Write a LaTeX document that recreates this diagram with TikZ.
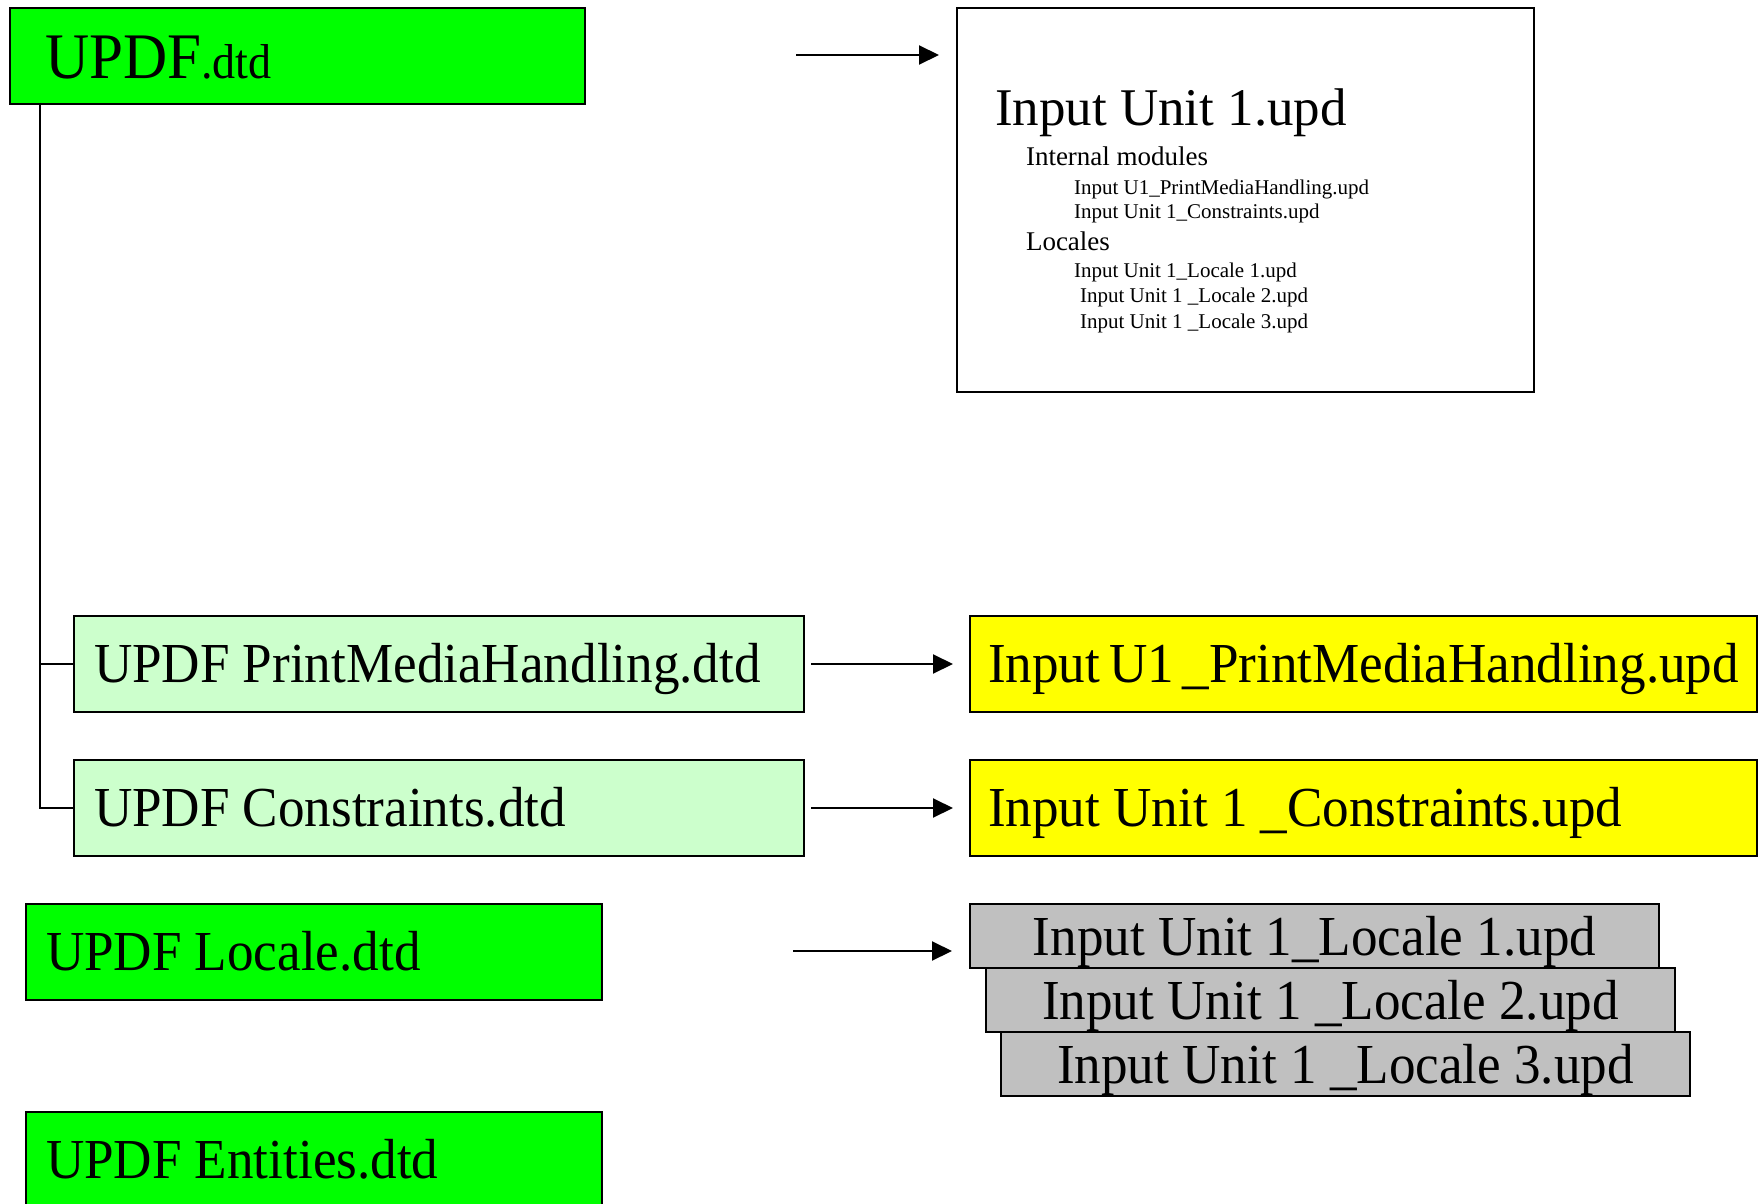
\documentclass[tikz,border=0pt]{standalone}
\usepackage{fontspec}
\setmainfont{Liberation Serif}
\newfontfamily\boxface{Liberation Serif}[FakeStretch=0.94]
\usetikzlibrary{arrows.meta}
\definecolor{dtdlight}{RGB}{204,255,204}
\definecolor{locgrey}{RGB}{192,192,192}
\definecolor{updyellow}{RGB}{255,255,0}

\begin{document}
\begin{tikzpicture}[x=1pt, y=-1pt, line width=2pt,
    filebox/.style={draw, rectangle, anchor=north west, minimum height=96pt,
      inner ysep=0pt, inner xsep=22pt, font=\boxface\fontsize{56.5}{60}\selectfont,
      text height=39pt, text depth=2pt,
      execute at begin node={\hbox to #1\bgroup},
      execute at end node={\hfil\egroup}},
    dtdbox/.style={filebox=#1, fill=green, text depth=3pt},
    subbox/.style={filebox=#1, fill=dtdlight, inner xsep=20pt},
    updbox/.style={filebox=#1, fill=updyellow, inner xsep=18pt},
    localebox/.style={draw, rectangle, anchor=north west, fill=locgrey,
      minimum width=689pt, minimum height=64pt, inner sep=0pt,
      font=\boxface\fontsize{56.5}{60}\selectfont, text height=39pt, text depth=0pt},
    listline/.style={anchor=base west, inner sep=0pt},
    arr/.style={-{Triangle[length=20pt, width=19pt]}}]
        \useasboundingbox (0,0) rectangle (1762,1204);
        \clip (0,0) rectangle (1762,1204);
        \fill[white] (0,0) rectangle (1762,1204);

        % Main DTD
        \node[dtdbox=505pt, inner xsep=35pt, text height=45pt, text depth=0pt] (updf) at (9,7)
            {\fontsize{65}{70}\selectfont UPDF\fontsize{49}{52}\selectfont .dtd};

        % Contents of the input unit
        \node[draw, fill=white, anchor=north west, minimum width=577pt,
            minimum height=384pt, inner sep=0pt] (unit) at (956,7) {};
        \node[listline, font=\fontsize{53}{56}\selectfont] (unit-title) at (994,126) {Input Unit 1.upd};
        \node[listline, font=\fontsize{27}{30}\selectfont] (unit-mods) at (1025,166) {Internal modules};
        \node[listline, font=\fontsize{21}{24}\selectfont] (unit-pmh) at (1073,194) {Input U1\_PrintMediaHandling.upd};
        \node[listline, font=\fontsize{21}{24}\selectfont] (unit-cons) at (1073,218) {Input Unit 1\_Constraints.upd};
        \node[listline, font=\fontsize{27}{30}\selectfont] (unit-locs) at (1025,250) {Locales};
        \node[listline, font=\fontsize{21}{24}\selectfont] (unit-loc1) at (1073,277) {Input Unit 1\_Locale 1.upd};
        \node[listline, font=\fontsize{21}{24}\selectfont] (unit-loc2) at (1079,302) {Input Unit 1 \_Locale 2.upd};
        \node[listline, font=\fontsize{21}{24}\selectfont] (unit-loc3) at (1079,328) {Input Unit 1 \_Locale 3.upd};

        % Internal module DTDs
        \node[subbox=690pt] (pmh) at (73,615) {UPDF PrintMediaHandling.dtd};
        \node[subbox=690pt] (cons) at (73,759) {UPDF Constraints.dtd};
        \coordinate (trunk) at (40,103);
        \draw (trunk) |- (pmh.west);
        \draw (trunk) |- (cons.west);

        % Internal module files
        \node[updbox=751pt] (pmhupd) at (969,615) {Input U1 \_PrintMediaHandling.upd};
        \node[updbox=751pt] (consupd) at (969,759) {Input Unit 1 \_Constraints.upd};

        % Locale and entities DTDs
        \node[dtdbox=536pt, inner xsep=20pt] (locale) at (25,903) {UPDF Locale.dtd};
        \node[dtdbox=536pt, inner xsep=20pt] (entities) at (25,1111) {UPDF Entities.dtd};

        % Locale files
        \node[localebox] (loc1) at (969,903) {Input Unit 1\_Locale 1.upd};
        \node[localebox] (loc2) at (985,967) {Input Unit 1 \_Locale 2.upd};
        \node[localebox] (loc3) at (1000,1031) {Input Unit 1 \_Locale 3.upd};

        % Arrows
        \coordinate (unit-in) at (796,55);
        \draw[arr, shorten >=17pt] (unit-in) -- (unit-in -| unit.west);
        \draw[arr, shorten <=6pt, shorten >=16pt] (pmh.east) -- (pmhupd.west);
        \draw[arr, shorten <=6pt, shorten >=16pt] (cons.east) -- (consupd.west);
        \coordinate (locale-in) at (793,951);
        \draw[arr, shorten >=17pt] (locale-in) -- (locale-in -| loc1.west);

    \end{tikzpicture}
\end{document}
